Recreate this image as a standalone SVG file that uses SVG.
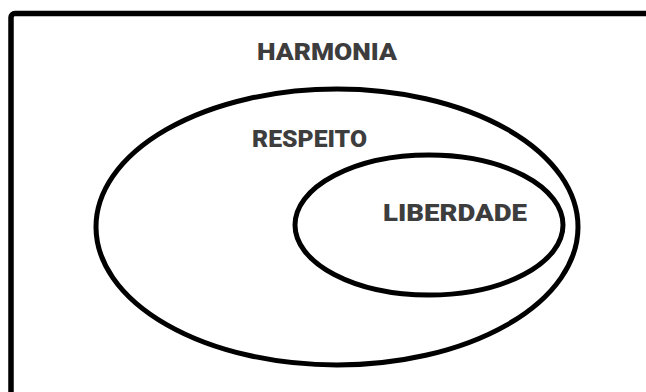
<svg xmlns="http://www.w3.org/2000/svg" width="646" height="392" viewBox="0 0 646 392">
<style>
.frame{fill:none;stroke:#000;stroke-width:5.5}
.set{fill:none;stroke:#000;stroke-width:5}
.lbl{font-family:Roboto,"Liberation Sans",sans-serif;font-weight:900;font-size:24px;fill:#3d3d3d}
</style>
<rect width="646" height="392" fill="#fff"/>
<rect class="frame" x="11" y="13.5" width="700" height="500" rx="4"/>
<g id="harmonia">
<text class="lbl" x="257" y="60" textLength="140" lengthAdjust="spacingAndGlyphs">HARMONIA</text>
</g>
<g id="respeito">
<ellipse class="set" cx="337" cy="227" rx="241" ry="138"/>
<text class="lbl" x="252" y="147" textLength="115" lengthAdjust="spacingAndGlyphs">RESPEITO</text>
</g>
<g id="liberdade">
<ellipse class="set" cx="429" cy="225" rx="134" ry="70"/>
<text class="lbl" x="383" y="221" textLength="144" lengthAdjust="spacingAndGlyphs">LIBERDADE</text>
</g>
<g id="connectors"/>
</svg>
